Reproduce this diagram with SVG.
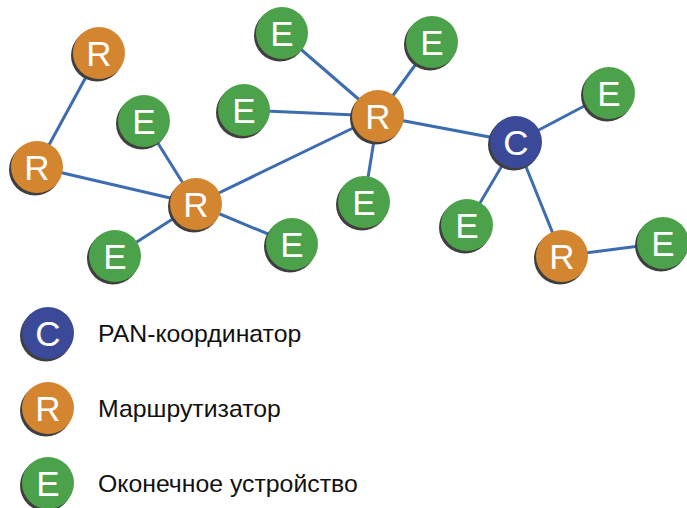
<svg xmlns="http://www.w3.org/2000/svg" width="687" height="508" viewBox="0 0 687 508">
<style>
.e{stroke:#3D6DB0;stroke-width:3;fill:none}
.sh{fill:#3f3f3f}
.c{fill:#3B4A98}
.r{fill:#D3862F}
.g{fill:#4CA24A}
.l{font-family:"Liberation Sans",Arial,sans-serif;font-size:35px;fill:#fff;text-anchor:middle}
.t{font-family:"Liberation Sans",Arial,sans-serif;font-size:24.8px;fill:#111}
</style>
<defs>
<g id="sh"><circle r="26" cx="-2" cy="2.5" class="sh"/></g>
</defs>
<g id="connectors">
<line class="e" x1="99" y1="53" x2="37" y2="167"/>
<line class="e" x1="37" y1="167" x2="196" y2="204"/>
<line class="e" x1="144" y1="121" x2="196" y2="204"/>
<line class="e" x1="196" y1="204" x2="115" y2="256"/>
<line class="e" x1="196" y1="204" x2="292" y2="244"/>
<line class="e" x1="196" y1="204" x2="378" y2="116"/>
<line class="e" x1="378" y1="116" x2="282" y2="33"/>
<line class="e" x1="378" y1="116" x2="432" y2="42"/>
<line class="e" x1="378" y1="116" x2="244" y2="110"/>
<line class="e" x1="378" y1="116" x2="364" y2="202"/>
<line class="e" x1="378" y1="116" x2="516" y2="142"/>
<line class="e" x1="516" y1="142" x2="609" y2="93"/>
<line class="e" x1="516" y1="142" x2="467" y2="225"/>
<line class="e" x1="516" y1="142" x2="562" y2="256"/>
<line class="e" x1="562" y1="256" x2="663" y2="243"/>
</g>
<g id="r1" transform="translate(99,53)"><use href="#sh"/><circle r="26" class="r"/><text class="l" y="12.5">R</text></g>
<g id="r2" transform="translate(37,167)"><use href="#sh"/><circle r="26" class="r"/><text class="l" y="12.5">R</text></g>
<g id="e1" transform="translate(144,121)"><use href="#sh"/><circle r="26" class="g"/><text class="l" y="12.5">E</text></g>
<g id="r3" transform="translate(196,204)"><use href="#sh"/><circle r="26" class="r"/><text class="l" y="12.5">R</text></g>
<g id="e2" transform="translate(115,256)"><use href="#sh"/><circle r="26" class="g"/><text class="l" y="12.5">E</text></g>
<g id="e3" transform="translate(292,244)"><use href="#sh"/><circle r="26" class="g"/><text class="l" y="12.5">E</text></g>
<g id="e4" transform="translate(282,33)"><use href="#sh"/><circle r="26" class="g"/><text class="l" y="12.5">E</text></g>
<g id="e5" transform="translate(432,42)"><use href="#sh"/><circle r="26" class="g"/><text class="l" y="12.5">E</text></g>
<g id="e6" transform="translate(244,110)"><use href="#sh"/><circle r="26" class="g"/><text class="l" y="12.5">E</text></g>
<g id="r4" transform="translate(378,116)"><use href="#sh"/><circle r="26" class="r"/><text class="l" y="12.5">R</text></g>
<g id="e7" transform="translate(364,202)"><use href="#sh"/><circle r="26" class="g"/><text class="l" y="12.5">E</text></g>
<g id="c1" transform="translate(516,142)"><use href="#sh"/><circle r="26" class="c"/><text class="l" y="12.5">C</text></g>
<g id="e8" transform="translate(609,93)"><use href="#sh"/><circle r="26" class="g"/><text class="l" y="12.5">E</text></g>
<g id="e9" transform="translate(467,225)"><use href="#sh"/><circle r="26" class="g"/><text class="l" y="12.5">E</text></g>
<g id="r5" transform="translate(562,256)"><use href="#sh"/><circle r="26" class="r"/><text class="l" y="12.5">R</text></g>
<g id="e10" transform="translate(663,243)"><use href="#sh"/><circle r="26" class="g"/><text class="l" y="12.5">E</text></g>
<g id="legend-c" transform="translate(48,333)"><use href="#sh"/><circle r="26" class="c"/><text class="l" y="12.5">C</text><text class="t" x="50" y="9">PAN-координатор</text></g>
<g id="legend-r" transform="translate(48,408)"><use href="#sh"/><circle r="26" class="r"/><text class="l" y="12.5">R</text><text class="t" x="50" y="9">Маршрутизатор</text></g>
<g id="legend-e" transform="translate(48,483)"><use href="#sh"/><circle r="26" class="g"/><text class="l" y="12.5">E</text><text class="t" x="50" y="9">Оконечное устройство</text></g>
</svg>
